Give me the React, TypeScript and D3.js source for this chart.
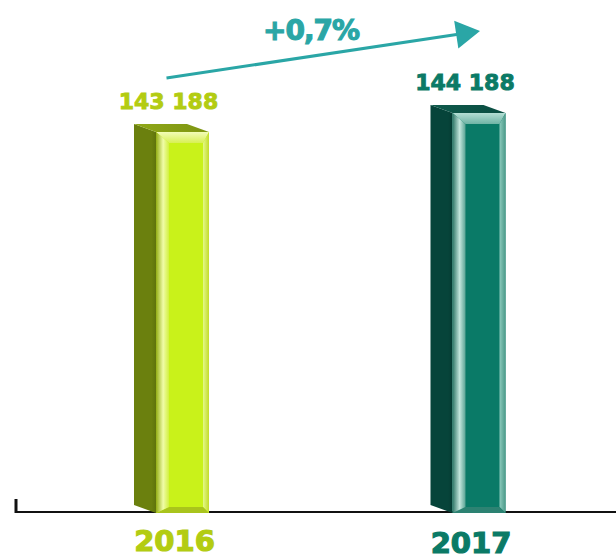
import React from "react";
import * as d3 from "d3";

const years = ["2016", "2017"];
const values = [143188, 144188];
const valueLabels = ["143 188", "144 188"];
const changeLabel = "+0,7%";
const yDomain = [123100, 144188];

const palettes = [
  {
    label: "#b3cc12",
    side: "#6b800e",
    sideDark: "#5f730b",
    top: "#7d9412",
    topLight: "#90a818",
    inner: "#c9f21a",
    bevelTop: ["#f2fcb8", "#d8f055"],
    bevelLeft: ["#94ae14", "#f0fca8", "#d2f040"],
    bevelRight: ["#e4f88a", "#c2dc2a"],
    bevelBottom: "#a9c41c",
  },
  {
    label: "#0b7a66",
    side: "#06443a",
    sideDark: "#053a32",
    top: "#0a4d41",
    topLight: "#0f5a4c",
    inner: "#0a7a67",
    bevelTop: ["#b4ded4", "#6fb4a5"],
    bevelLeft: ["#2d7566", "#c4e6dd", "#5aa494"],
    bevelRight: ["#8ccabc", "#4b9a89"],
    bevelBottom: "#2c8272",
  },
];

const arrowColor = "#2aa6a6";
const font = "'DejaVu Sans', sans-serif";

const W = 616;
const H = 559;
const baseY = 513;
const frontW = 53;
const depthX = 22;
const depthY = 8;

export default function App() {
  const x = d3.scalePoint<string>().domain(years).range([182.5, 479]);
  const y = d3.scaleLinear().domain(yDomain).range([baseY, 113]);
  const pts = (arr: [number, number][]) => arr.map((p) => p.join(",")).join(" ");

  const bars = years.map((yr, i) => {
    const pal = palettes[i];
    const cx = x(yr) as number;
    const x0 = cx - frontW / 2;
    const x1 = cx + frontW / 2;
    const yT = y(values[i]);
    const yB = baseY;
    const bl = 13, bt = 11, br = 6, bb = 6;
    const oTL: [number, number] = [x0, yT];
    const oTR: [number, number] = [x1, yT];
    const oBR: [number, number] = [x1, yB];
    const oBL: [number, number] = [x0, yB];
    const iTL: [number, number] = [x0 + bl, yT + bt];
    const iTR: [number, number] = [x1 - br, yT + bt];
    const iBR: [number, number] = [x1 - br, yB - bb];
    const iBL: [number, number] = [x0 + bl, yB - bb];
    const id = `b${i}`;
    return (
      <g key={yr}>
        <defs>
          <linearGradient id={`${id}-side`} x1="0" x2="1" y1="0" y2="0">
            <stop offset="0" stopColor={pal.side} />
            <stop offset="0.8" stopColor={pal.side} />
            <stop offset="1" stopColor={pal.sideDark} />
          </linearGradient>
          <linearGradient id={`${id}-top`} x1="0" x2="1" y1="0" y2="0">
            <stop offset="0" stopColor={pal.topLight} />
            <stop offset="1" stopColor={pal.top} />
          </linearGradient>
          <linearGradient id={`${id}-bt`} x1="0" x2="0" y1="0" y2="1">
            <stop offset="0" stopColor={pal.bevelTop[0]} />
            <stop offset="1" stopColor={pal.bevelTop[1]} />
          </linearGradient>
          <linearGradient id={`${id}-bl`} x1="0" x2="1" y1="0" y2="0">
            <stop offset="0" stopColor={pal.bevelLeft[0]} />
            <stop offset="0.55" stopColor={pal.bevelLeft[1]} />
            <stop offset="1" stopColor={pal.bevelLeft[2]} />
          </linearGradient>
          <linearGradient id={`${id}-br`} x1="0" x2="1" y1="0" y2="0">
            <stop offset="0" stopColor={pal.bevelRight[0]} />
            <stop offset="1" stopColor={pal.bevelRight[1]} />
          </linearGradient>
        </defs>
        <polygon
          points={pts([
            [x0 - depthX, yT - depthY],
            [x0, yT],
            [x0, yB],
            [x0 - depthX, yB - depthY],
          ])}
          fill={`url(#${id}-side)`}
        />
        <polygon
          points={pts([
            [x0 - depthX, yT - depthY],
            [x1 - depthX, yT - depthY],
            [x1, yT],
            [x0, yT],
          ])}
          fill={`url(#${id}-top)`}
        />
        <rect x={x0} y={yT} width={frontW} height={yB - yT} fill={pal.inner} />
        <polygon points={pts([oTL, oTR, iTR, iTL])} fill={`url(#${id}-bt)`} />
        <polygon points={pts([oTR, oBR, iBR, iTR])} fill={`url(#${id}-br)`} />
        <polygon points={pts([oBR, oBL, iBL, iBR])} fill={pal.bevelBottom} />
        <polygon points={pts([oBL, oTL, iTL, iBL])} fill={`url(#${id}-bl)`} />
        <text
          x={cx - 14}
          y={yT - 23}
          textAnchor="middle"
          fontFamily={font}
          fontWeight="bold"
          fontSize={22}
          fill={pal.label}
          stroke={pal.label}
          strokeWidth={0.9}
        >
          {valueLabels[i]}
        </text>
        <text
          x={cx - 8}
          y={551 + i * 1.5}
          textAnchor="middle"
          fontFamily={font}
          fontWeight="bold"
          fontSize={29}
          fill={pal.label}
          stroke={pal.label}
          strokeWidth={1.2}
        >
          {yr}
        </text>
      </g>
    );
  });

  const sx = (x(years[0]) as number) - 16;
  const sy = y(values[0]) - 54;
  const tx = (x(years[1]) as number) + 1;
  const ty = y(values[1]) - 82;
  const ang = Math.atan2(ty - sy, tx - sx);
  const headL = 24;
  const headHW = 14;
  const bx = tx - headL * Math.cos(ang);
  const by = ty - headL * Math.sin(ang);
  const nx = -Math.sin(ang);
  const ny = Math.cos(ang);
  const head = pts([
    [tx, ty],
    [bx + nx * headHW, by + ny * headHW],
    [bx - nx * headHW, by - ny * headHW],
  ]);

  return (
    <svg
      width={W}
      height={H}
      style={{ position: "absolute", left: 0, top: 0, background: "#fff" }}
    >
      <rect width={W} height={H} fill="#fff" />
      <line x1={15} x2={W} y1={512} y2={512} stroke="#111" strokeWidth={2} />
      <line x1={16} x2={16} y1={499} y2={513} stroke="#111" strokeWidth={3} />
      {bars}
      <line x1={sx} y1={sy} x2={bx + 2 * Math.cos(ang)} y2={by + 2 * Math.sin(ang)} stroke={arrowColor} strokeWidth={3} />
      <polygon points={head} fill={arrowColor} />
      <text
        x={311}
        y={40}
        textAnchor="middle"
        fontFamily={font}
        fontWeight="bold"
        fontSize={28}
        letterSpacing={-1}
        fill={arrowColor}
        stroke={arrowColor}
        strokeWidth={1.1}
      >
        {changeLabel}
      </text>
    </svg>
  );
}
